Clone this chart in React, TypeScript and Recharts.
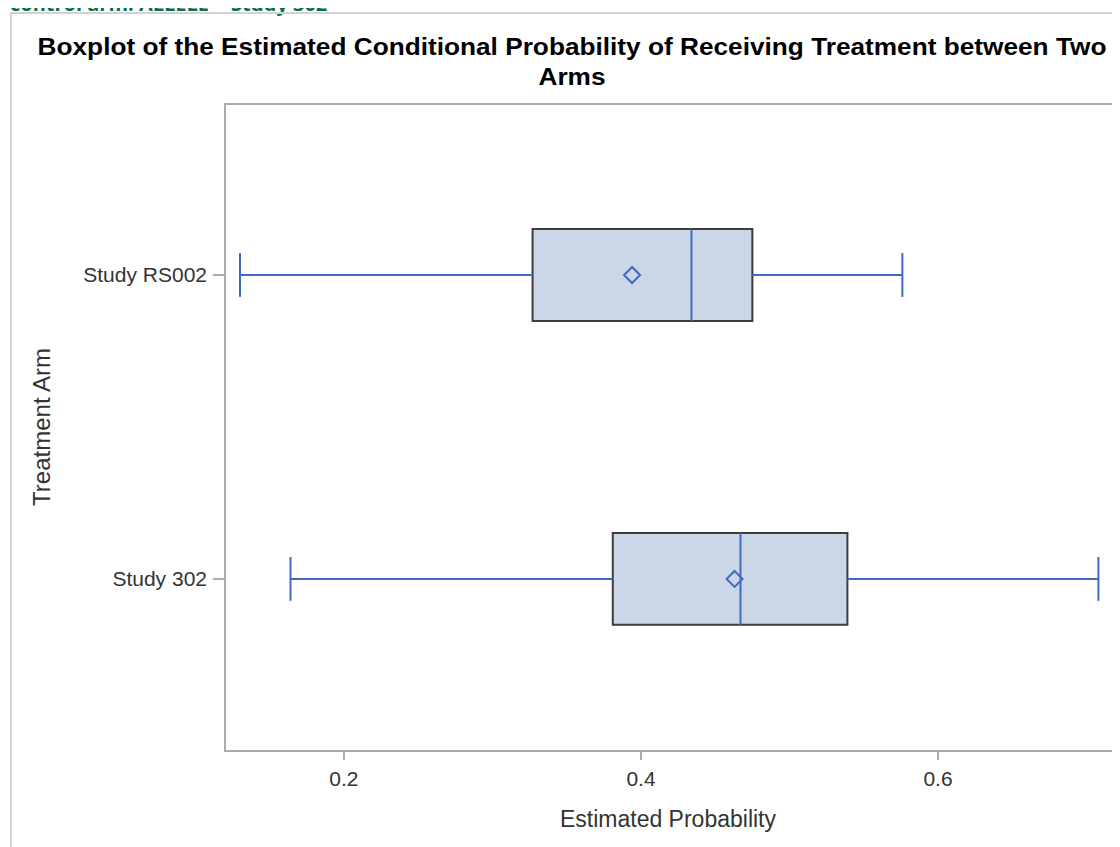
import React from "react"
import {
  ScatterChart,
  Scatter,
  XAxis,
  YAxis,
  ReferenceArea,
  ReferenceLine,
} from "recharts"

// box statistics per arm
const arms = ["Study RS002", "Study 302"]
const whiskerLow = [0.13, 0.164]
const q1 = [0.327, 0.381]
const median = [0.434, 0.467]
const q3 = [0.475, 0.539]
const whiskerHigh = [0.576, 0.708]
const mean = [0.394, 0.463]

const xTicks = [0.2, 0.4, 0.6]

const X_DOMAIN: [number, number] = [0.1199, 0.7185]
const Y_DOMAIN: [number, number] = [-0.566, 1.5625]
const BOX_HALF = 0.151
const CAP_HALF = 0.072

const BLUE = "#4169c4"
const BOX_FILL = "#cbd6e6"
const BOX_EDGE = "#3c3c3c"
const FRAME = "#a9abae"
const TEXT = "#333333"
const FONT = "'Liberation Sans', Arial, sans-serif"

// arm i sits at y = (n - 1 - i) so the first arm is on top
const armY = (i: number) => arms.length - 1 - i

const meanPoints = arms.map((name, i) => ({ name, x: mean[i], y: armY(i) }))

function Diamond(props: any) {
  const { cx, cy } = props
  if (cx == null || cy == null) return null
  const r = 8
  return (
    <path
      d={`M${cx},${cy - r}L${cx + r},${cy}L${cx},${cy + r}L${cx - r},${cy}Z`}
      fill="none"
      stroke={BLUE}
      strokeWidth={2}
    />
  )
}

export default function App() {
  return (
    <div style={{ position: "relative", width: 1112, height: 839, fontFamily: FONT }}>
      <div
        style={{
          position: "absolute",
          left: 2,
          top: -15,
          fontFamily: "'Open Sans', Lato, sans-serif",
          fontWeight: 700,
          fontSize: 20,
          lineHeight: "22px",
          color: "#0d6a50",
          whiteSpace: "nowrap",
        }}
      >
        control arm: ALLELE = Study 302
      </div>
      <div
        style={{
          position: "absolute",
          left: 2,
          top: 4,
          width: 1200,
          height: 900,
          border: "2px solid #d2d2d2",
          boxSizing: "border-box",
        }}
      />
      <div
        style={{
          position: "absolute",
          left: 0,
          top: 24,
          width: 1128,
          textAlign: "center",
          fontWeight: 700,
          fontSize: 23,
          lineHeight: "30px",
          color: "#000",
          transform: "scaleX(1.14)",
          transformOrigin: "564px 0",
        }}
      >
        Boxplot of the Estimated Conditional Probability of Receiving Treatment between Two
        <br />
        Arms
      </div>
      <div
        style={{
          position: "absolute",
          left: 34 - 100,
          top: 419 - 14,
          width: 200,
          textAlign: "center",
          fontSize: 24,
          lineHeight: "28px",
          color: TEXT,
          transform: "rotate(-90deg)",
        }}
      >
        Treatment Arm
      </div>
      <div
        style={{
          position: "absolute",
          left: 660 - 200,
          top: 798,
          width: 400,
          textAlign: "center",
          fontSize: 23,
          lineHeight: "27px",
          color: TEXT,
        }}
      >
        Estimated Probability
      </div>
      <div style={{ position: "absolute", left: 0, top: 0 }}>
        <ScatterChart
          width={1112}
          height={839}
          margin={{ top: 96, right: 6, bottom: 46, left: 17 }}
        >
          <XAxis
            type="number"
            dataKey="x"
            domain={X_DOMAIN}
            allowDataOverflow
            ticks={xTicks}
            tickFormatter={(v: number) => v.toFixed(1)}
            axisLine={false}
            tickSize={9}
            tickMargin={11}
            tickLine={{ stroke: FRAME, strokeWidth: 2 }}
            tick={{ fill: TEXT, fontSize: 21, fontFamily: FONT }}
            height={50}
          />
          <YAxis
            type="number"
            dataKey="y"
            domain={Y_DOMAIN}
            allowDataOverflow
            ticks={arms.map((_, i) => armY(i))}
            tickFormatter={(v: number) => arms[arms.length - 1 - v]}
            axisLine={false}
            tickSize={12}
            tickMargin={6}
            tickLine={{ stroke: FRAME, strokeWidth: 2 }}
            tick={{ fill: TEXT, fontSize: 21, fontFamily: FONT }}
            width={200}
          />
          <ReferenceArea
            x1={X_DOMAIN[0]}
            x2={X_DOMAIN[1]}
            y1={Y_DOMAIN[0]}
            y2={Y_DOMAIN[1]}
            fill="#ffffff"
            fillOpacity={1}
            stroke={FRAME}
            strokeWidth={2}
          />
          {arms.map((name, i) => (
            <ReferenceLine
              key={name + "-wl"}
              segment={[{ x: whiskerLow[i], y: armY(i) }, { x: q1[i], y: armY(i) }]}
              stroke={BLUE}
              strokeWidth={2}
            />
          ))}
          {arms.map((name, i) => (
            <ReferenceLine
              key={name + "-wh"}
              segment={[{ x: q3[i], y: armY(i) }, { x: whiskerHigh[i], y: armY(i) }]}
              stroke={BLUE}
              strokeWidth={2}
            />
          ))}
          {arms.map((name, i) => (
            <ReferenceLine
              key={name + "-cl"}
              segment={[
                { x: whiskerLow[i], y: armY(i) - CAP_HALF },
                { x: whiskerLow[i], y: armY(i) + CAP_HALF },
              ]}
              stroke={BLUE}
              strokeWidth={2}
            />
          ))}
          {arms.map((name, i) => (
            <ReferenceLine
              key={name + "-ch"}
              segment={[
                { x: whiskerHigh[i], y: armY(i) - CAP_HALF },
                { x: whiskerHigh[i], y: armY(i) + CAP_HALF },
              ]}
              stroke={BLUE}
              strokeWidth={2}
            />
          ))}
          {arms.map((name, i) => (
            <ReferenceArea
              key={name + "-box"}
              x1={q1[i]}
              x2={q3[i]}
              y1={armY(i) - BOX_HALF}
              y2={armY(i) + BOX_HALF}
              fill={BOX_FILL}
              fillOpacity={1}
              stroke={BOX_EDGE}
              strokeWidth={2}
            />
          ))}
          {arms.map((name, i) => (
            <ReferenceLine
              key={name + "-med"}
              segment={[
                { x: median[i], y: armY(i) - BOX_HALF },
                { x: median[i], y: armY(i) + BOX_HALF },
              ]}
              stroke={BLUE}
              strokeWidth={2}
            />
          ))}
          <Scatter data={meanPoints} shape={<Diamond />} isAnimationActive={false} />
        </ScatterChart>
      </div>
    </div>
  )
}
